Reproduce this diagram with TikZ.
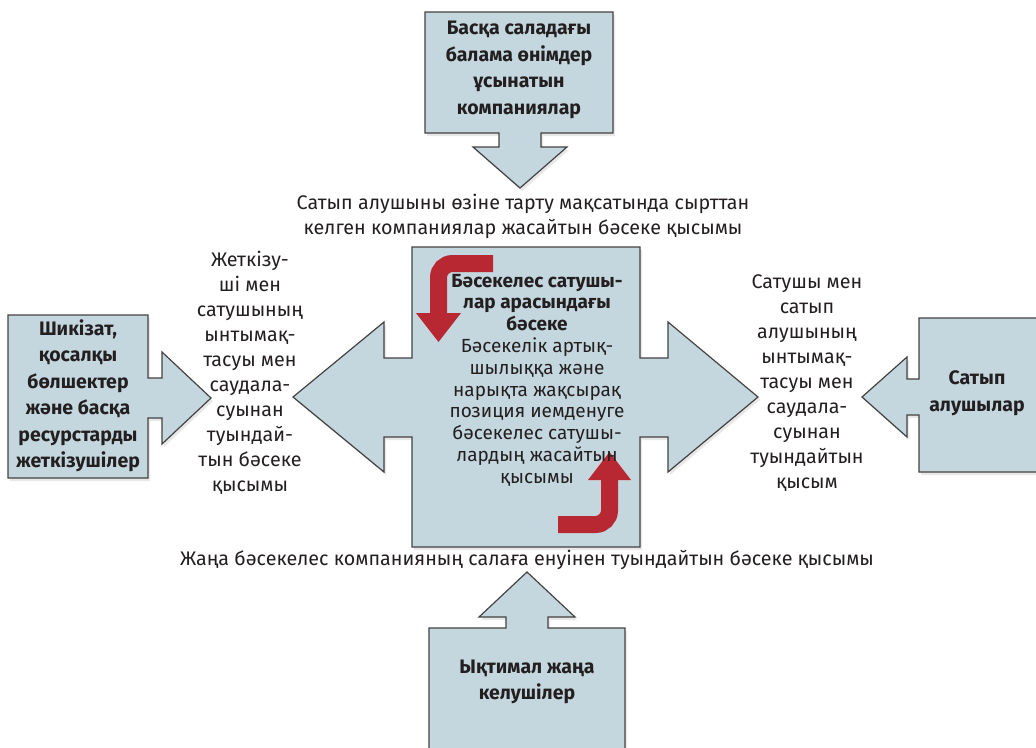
\documentclass[tikz,border=0pt]{standalone}
\usepackage{fontspec}
\setmainfont{Fira Sans}
\usepackage{tikz}
\usetikzlibrary{shadows}

\definecolor{boxblue}{RGB}{196,215,222}
\definecolor{barred}{RGB}{183,40,50}
\definecolor{inkgray}{RGB}{35,31,32}

\begin{document}
\begin{tikzpicture}[x=1pt,y=-1pt]
\tikzstyle{forcebox}=[draw=inkgray!85,fill=boxblue,line width=1.2pt,line join=miter,
    drop shadow={opacity=0.18,shadow xshift=2pt,shadow yshift=-3pt}];
\tikzstyle{plaintxt}=[align=center,inner sep=0pt,text=inkgray,font=\fontsize{19.7}{25}\selectfont];
\tikzstyle{boldtxt}=[align=center,inner sep=0pt,text=inkgray,font=\bfseries\fontsize{19.5}{26.5}\selectfont];
\tikzstyle{centertxt}=[align=center,inner sep=0pt,text=inkgray,font=\fontsize{19}{21.8}\selectfont];
\tikzstyle{redbar}=[draw=barred,line width=17pt,rounded corners=14pt];
\useasboundingbox (0,0) rectangle (1036,747);
\clip (0,0) rectangle (1036,747);
% draw shapes
%   top box
    \draw[forcebox] (425,12) -- (613,12) -- (613,133) -- (541,133) -- (541,147) -- (567,147)
        -- (520,188) -- (473,147) -- (499,147) -- (499,133) -- (425,133) -- cycle;
%   left box
    \draw[forcebox] (8,315) -- (148,315) -- (148,378) -- (162,378) -- (162,352) -- (211,398)
        -- (162,444) -- (162,418) -- (148,418) -- (148,478) -- (8,478) -- cycle;
%   right box
    \draw[forcebox] (1050,318) -- (919,318) -- (919,379) -- (907,379) -- (907,357) -- (862,397)
        -- (907,437) -- (907,415) -- (919,415) -- (919,472) -- (1050,472) -- cycle;
%   bottom box
    \draw[forcebox] (429,760) -- (429,628) -- (506,628) -- (506,617) -- (479,617) -- (527,572)
        -- (575,617) -- (548,617) -- (548,628) -- (625,628) -- (625,760) -- cycle;
%   centre cross
    \draw[forcebox] (412,247) -- (640,247) -- (640,358) -- (668,358) -- (668,322) -- (758,397)
        -- (668,472) -- (668,437) -- (640,437) -- (640,547) -- (412,547) -- (412,437)
        -- (384,437) -- (384,472) -- (293,397) -- (384,322) -- (384,358) -- (412,358) -- cycle;
% draw red arrows
    \coordinate (r1) at (493,263.5);
    \coordinate (r2) at (438.5,263.5);
    \coordinate (r3) at (438.5,314);
    \draw[redbar] (r1) -- (r2) -- (r3);
    \fill[barred] (416,313) -- (438.5,342) -- (461,313) -- cycle;
    \coordinate (s1) at (558,524.5);
    \coordinate (s2) at (609.5,524.5);
    \coordinate (s3) at (609.5,479);
    \draw[redbar] (s1) -- (s2) -- (s3);
    \fill[barred] (588,480) -- (609.5,452) -- (631,480) -- cycle;
% texts
%   nodes
    \node[boldtxt] (subst) at (519,70) {Басқа саладағы\\балама өнімдер\\ұсынатын\\компаниялар};
    \node[plaintxt] (substp) at (523,216) {Сатып алушыны өзіне тарту мақсатында сырттан\\келген компаниялар жасайтын бәсеке қысымы};
    \node[boldtxt] (suppl) at (78,396) {Шикізат,\\қосалқы\\бөлшектер\\және басқа\\ресурстарды\\жеткізушілер};
    \node[plaintxt] (supplp) at (250,373) {Жеткізу-\\ші мен\\сатушының\\ынтымақ-\\тасуы мен\\саудала-\\суынан\\туындай-\\тын бәсеке\\қысымы};
    \node[centertxt] (rival) at (537,380) {\textbf{Бәсекелес сатушы-}\\\textbf{лар арасындағы}\\\textbf{бәсеке}\\Бәсекелік артық-\\шылыққа және\\нарықта жақсырақ\\позиция иемденуге\\бәсекелес сатушы-\\лардың жасайтын\\қысымы};
    \node[plaintxt] (buyerp) at (807,383) {Сатушы мен\\сатып\\алушының\\ынтымақ-\\тасуы мен\\саудала-\\суынан\\туындайтын\\қысым};
    \node[boldtxt] (buyer) at (977,393) {Сатып\\алушылар};
    \node[plaintxt] (entryp) at (527,560) {Жаңа бәсекелес компанияның салаға енуінен туындайтын бәсеке қысымы};
    \node[boldtxt] (entry) at (527,682) {Ықтимал жаңа\\келушілер};
\end{tikzpicture}
\end{document}
